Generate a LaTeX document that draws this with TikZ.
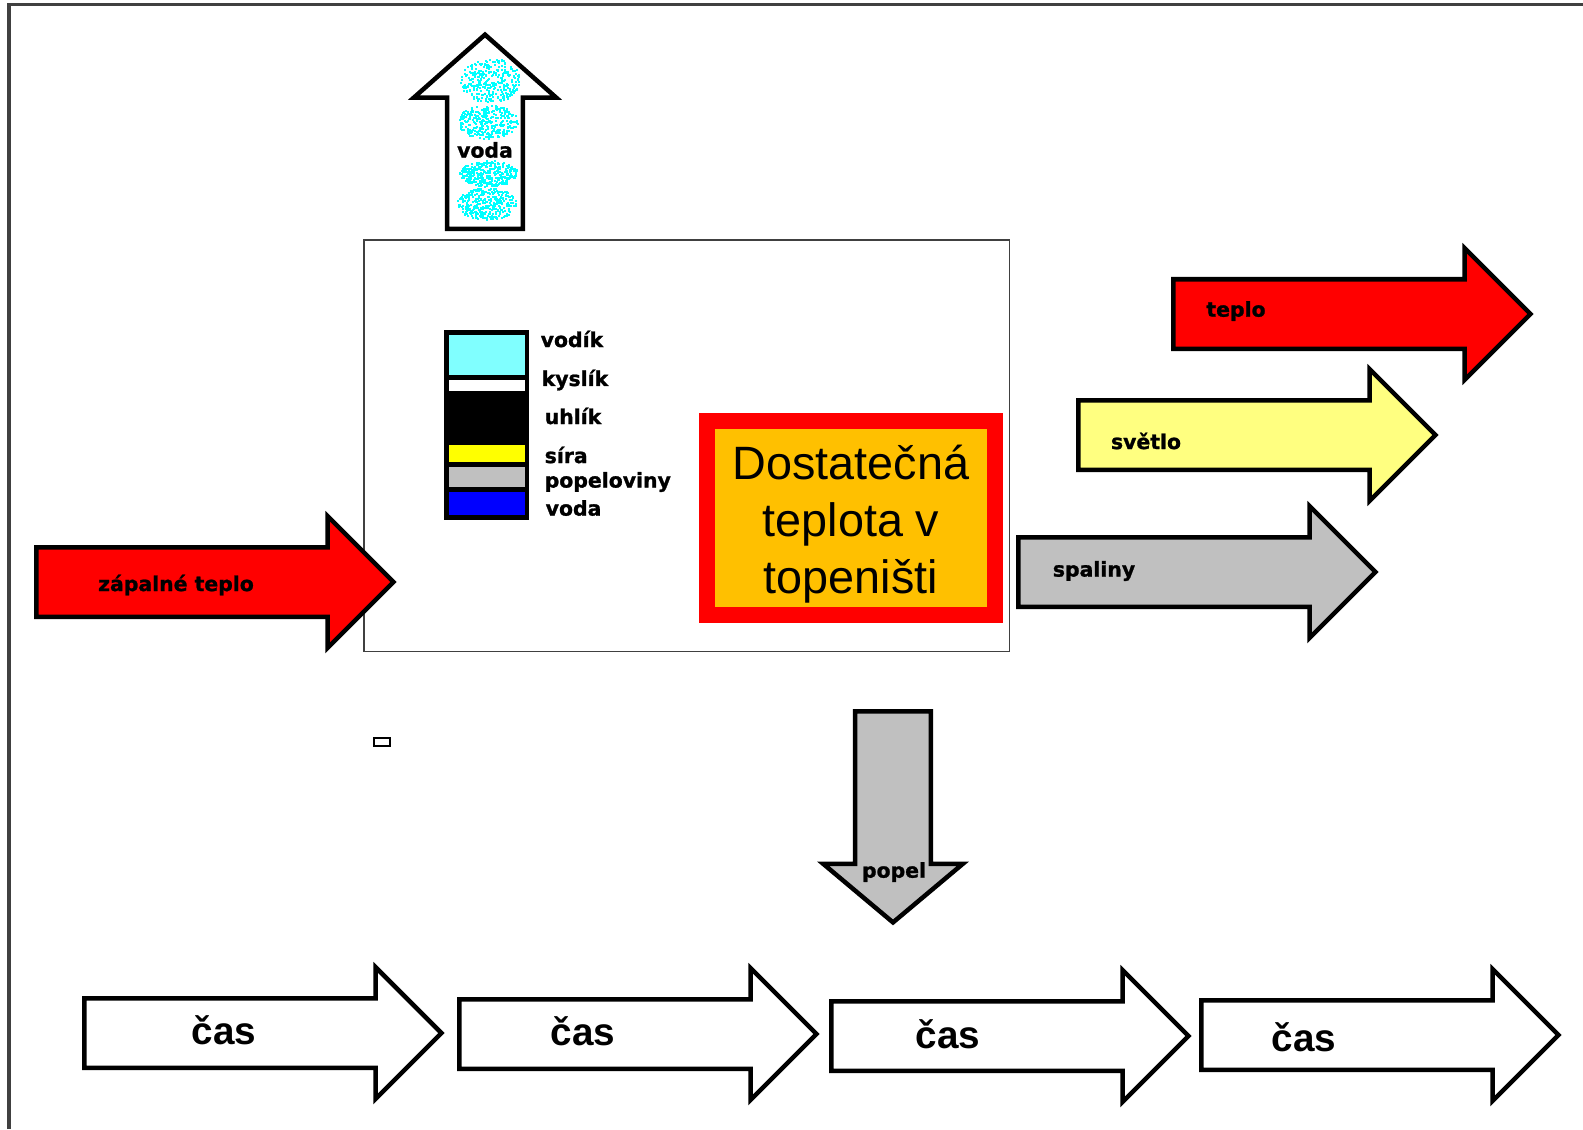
\documentclass[tikz,border=0pt]{standalone}
\usepackage{fontspec}
\setmainfont{Liberation Sans}
\newfontfamily\lblfont[FakeBold=1.2]{DejaVu Sans Bold}
\usetikzlibrary{shapes.arrows, positioning}

\definecolor{ohen}{HTML}{FF0000}
\definecolor{svetlo}{HTML}{FFFF80}
\definecolor{sediva}{HTML}{C0C0C0}
\definecolor{oranz}{HTML}{FFC000}
\definecolor{azur}{HTML}{80FFFF}
\definecolor{tyrkys}{HTML}{00FFFF}
\definecolor{modra}{HTML}{0000FF}
\definecolor{zluta}{HTML}{FFFF00}

\tikzset{
  sipka/.style={single arrow, draw, line width=0.045cm, inner xsep=0,
    inner ysep=0.325cm, minimum height=3.57cm, single arrow head extend=0.31cm,
    single arrow tip angle=90, anchor=tail},
  popis/.style={font=\lblfont\fontsize{5.8}{7}\selectfont, inner sep=0},
  cas/.style={font=\bfseries\fontsize{11}{13}\selectfont, inner sep=0},
}

\begin{document}
\begin{tikzpicture}[x=0.01cm, y=-0.01cm]
  \useasboundingbox (0,0) rectangle (1583,1129);
  % ram
  \draw[black!75, line width=0.03cm] (9,1129) -- (9,4) -- (1583,4);

  % topeniste
  \node[draw=black!75, line width=0.015cm, minimum width=6.45cm, minimum height=4.11cm,
    anchor=north west, inner sep=0, outer sep=0] (topeniste) at (364,240) {};

  % slozeni paliva
  \fill (444,330) rectangle (529,520);
  \fill[azur] (449,335) rectangle (525,375);
  \fill[white] (449,380) rectangle (525,391);
  \fill[zluta] (449,445) rectangle (525,462);
  \fill[sediva] (449,467) rectangle (525,487);
  \fill[modra] (449,492) rectangle (525,515);
  \node[popis, anchor=west] (vodik) at (540,339) {vodík};
  \node[popis, anchor=west] (kyslik) at (541,380) {kyslík};
  \node[popis, anchor=west] (uhlik) at (544,416) {uhlík};
  \node[popis, anchor=west] (sira) at (544,455) {síra};
  \node[popis, anchor=west] (popeloviny) at (544,482) {popeloviny};
  \node[popis, anchor=west] (vodaP) at (545,508) {voda};

  % teplota
  \node[draw=ohen, fill=oranz, line width=0.16cm, minimum width=2.88cm, minimum height=1.94cm,
    inner sep=0, outer sep=0] (teplota) at (851,518) {};
  \node[align=center, font=\fontsize{13.3}{16.2}\selectfont, inner sep=0]
    (teplotaText) at (851,524) {Dostatečná\\teplota v\\topeništi};

  % vstup a vystupy
  \node[sipka, fill=ohen] (zapal) at (34,582) {};
  \node[popis] at (176,585) {zápalné teplo};
  \node[sipka, fill=ohen] (teplo) at (1171,314) {};
  \node[popis] at (1236,311) {teplo};
  \node[sipka, fill=svetlo] (svetlo) at (1076,435) {};
  \node[popis] at (1146,441) {světlo};
  \node[sipka, fill=sediva] (spaliny) at (1016,572) {};
  \node[popis] at (1094,571) {spaliny};

  % voda nahoru
  \node[sipka, fill=white, rotate=90, minimum height=1.94cm, inner ysep=0.355cm,
    single arrow head extend=0.335cm, single arrow tip angle=97] (voda) at (485,231) {};
  \pgfmathsetseed{7}
  \foreach \cx/\cy/\rx/\ry in {490/80/30/22, 487/121/30/17, 488/173/29/13, 486/203/30/16}{
    \foreach \i in {1,...,330}{
      \pgfmathsetmacro\a{360*rnd}
      \pgfmathsetmacro\r{sqrt(rnd)}
      \fill[tyrkys] ({\cx+\rx*\r*cos(\a)},{\cy+\ry*\r*sin(\a)}) rectangle +(2,2);
    }
  }
  \node[popis] at (485,150) {voda};

  % popel dolu
  \node[sipka, fill=sediva, rotate=-90, minimum height=2.11cm, inner ysep=0.355cm,
    single arrow head extend=0.32cm, single arrow tip angle=100] (popel) at (893,709) {};
  \node[popis] at (894,872) {popel};

  \draw[line width=0.02cm] (374,738) rectangle (390,746);

  % cas
  \node[sipka, fill=white] (cas1) at (82,1033) {};
  \node[cas] at (224,1030) {čas};
  \node[sipka, fill=white] (cas2) at (457,1034) {};
  \node[cas] at (583,1031) {čas};
  \node[sipka, fill=white] (cas3) at (829,1036) {};
  \node[cas] at (948,1034) {čas};
  \node[sipka, fill=white] (cas4) at (1199,1035) {};
  \node[cas] at (1304,1037) {čas};
\end{tikzpicture}
\end{document}
